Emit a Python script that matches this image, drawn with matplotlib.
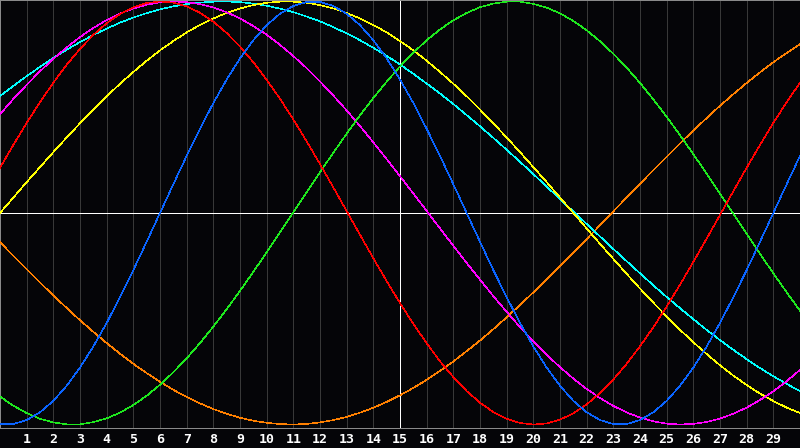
import matplotlib
matplotlib.use("Agg")
import matplotlib.pyplot as plt

# Day positions (half-day steps from 0 to 30)
steps = list(range(61))
days = [s / 2 for s in steps]
tick_days = list(range(1, 30))
tick_labels = [str(t) for t in tick_days]

# Curve values in thousandths of full amplitude at each half day
physical_blue = [-998, -998, -979, -942, -888, -817, -731, -631, -520, -398, -270, -136, 0,
                 136, 270, 398, 520, 631, 731, 817, 888, 942, 979, 998, 998, 979, 942, 888,
                 817, 731, 631, 520, 398, 270, 136, 0, -136, -270, -398, -520, -631, -731,
                 -817, -888, -942, -979, -998, -998, -979, -942, -888, -817, -731, -631, -520,
                 -398, -270, -136, 0, 136, 270]
emotional_red = [214, 322, 426, 524, 616, 701, 776, 842, 897, 941, 973, 993, 1000, 995, 977,
                 947, 905, 851, 787, 713, 630, 540, 442, 339, 231, 121, 9, -103, -214, -322,
                 -426, -524, -616, -701, -776, -842, -897, -941, -973, -993, -1000, -995, -977,
                 -947, -905, -851, -787, -713, -630, -540, -442, -339, -231, -121, -9, 103, 214,
                 322, 426, 524, 616]
intellectual_green = [-868, -911, -946, -973, -990, -999, -999, -989, -971, -944, -908, -864,
                      -812, -753, -687, -615, -537, -455, -368, -278, -186, -91, 4, 99, 193,
                      285, 375, 462, 544, 621, 693, 758, 817, 868, 911, 946, 973, 990, 999,
                      999, 989, 971, 944, 908, 864, 812, 753, 687, 615, 537, 455, 368, 278,
                      186, 91, -4, -99, -193, -285, -375, -462]
intuitive_magenta = [467, 539, 606, 670, 729, 783, 832, 875, 912, 943, 967, 985, 996, 1000, 997,
                     988, 972, 949, 920, 884, 843, 795, 742, 685, 622, 555, 485, 411, 334, 255,
                     174, 92, 10, -73, -155, -236, -315, -393, -467, -539, -606, -670, -729,
                     -783, -832, -875, -912, -943, -967, -985, -996, -1000, -997, -988, -972,
                     -949, -920, -884, -843, -795, -742]
aesthetic_yellow = [0, 73, 146, 217, 288, 357, 424, 489, 552, 611, 667, 720, 769, 813, 854, 889,
                    920, 946, 967, 983, 994, 999, 999, 994, 983, 967, 946, 920, 889, 854, 813,
                    769, 720, 667, 611, 552, 489, 424, 357, 288, 217, 146, 73, 0, -73, -146,
                    -217, -288, -357, -424, -489, -552, -611, -667, -720, -769, -813, -854,
                    -889, -920, -946]
awareness_orange = [-138, -203, -266, -329, -390, -449, -507, -562, -615, -665, -713, -757, -798,
                    -836, -870, -900, -927, -949, -968, -982, -992, -998, -1000, -997, -990,
                    -979, -964, -944, -921, -893, -862, -827, -789, -747, -702, -653, -603,
                    -549, -493, -435, -375, -314, -251, -187, -123, -58, 8, 73, 138, 203, 266,
                    329, 390, 449, 507, 562, 615, 665, 713, 757, 798]
spiritual_cyan = [553, 601, 647, 691, 733, 772, 808, 842, 872, 900, 924, 945, 963, 977, 988, 995,
                  999, 1000, 997, 990, 980, 966, 950, 929, 906, 879, 849, 817, 781, 743, 702,
                  658, 612, 565, 515, 463, 410, 355, 299, 242, 184, 125, 66, 7, -52, -111, -170,
                  -228, -285, -342, -397, -450, -502, -553, -601, -647, -691, -733, -772, -808,
                  -842]

series = [
    (awareness_orange, "#ff8000"),
    (spiritual_cyan, "#00ffff"),
    (aesthetic_yellow, "#ffff00"),
    (intuitive_magenta, "#ff00ff"),
    (intellectual_green, "#1ee81e"),
    (emotional_red, "#ff0000"),
    (physical_blue, "#0a64ff"),
]

BG = "#050508"
LW = 0.6   # about one pixel
CLW = 0.4  # thin curves

fig = plt.figure(figsize=(8, 4.48), dpi=100, facecolor=BG)
ax = fig.add_axes([0, 20 / 448, 1, 428 / 448])
ax.set_facecolor(BG)
ax.set_xlim(0, 30)
ax.set_ylim(-1.0165, 1.0071)

for d in tick_days:
    if d == 15:
        continue
    ax.axvline(d, color="#383838", lw=LW, antialiased=False, zorder=1)
ax.axvline(15, color="#ffffff", lw=LW, antialiased=False, zorder=2)
ax.axhline(0, color="#ffffff", lw=LW, antialiased=False, zorder=2)

for vals, col in series:
    ax.plot(days, [v / 1000 for v in vals], color=col, lw=CLW,
            antialiased=False, zorder=3)

for side in ["left", "top", "bottom"]:
    ax.spines[side].set_color("#8a8a8a")
    ax.spines[side].set_linewidth(LW)
    ax.spines[side].set_antialiased(False)
ax.spines["right"].set_visible(False)

ax.set_yticks([])
ax.set_xticks(tick_days)
ax.set_xticklabels(tick_labels, fontfamily="DejaVu Sans Mono", fontweight="bold",
                   fontsize=9.5, color="white")
ax.tick_params(axis="x", length=0, pad=3.5)

fig.savefig("out.png", dpi=100, facecolor=BG)
